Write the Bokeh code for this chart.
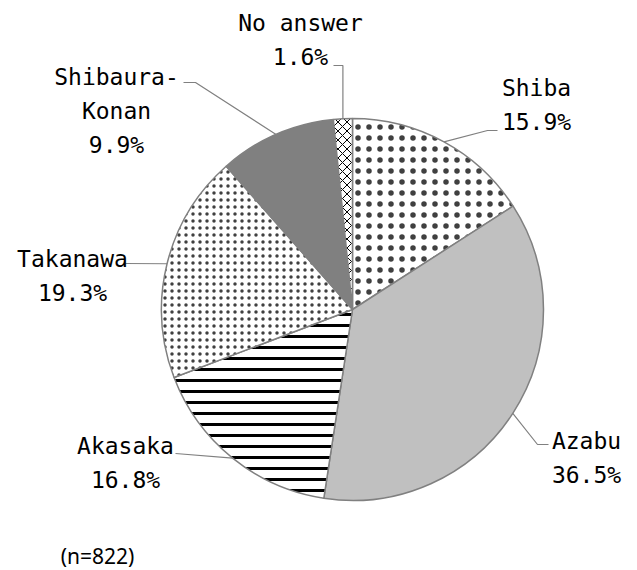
import math
from bokeh.plotting import figure
from bokeh.models import ColumnDataSource, Range1d
from bokeh.embed import file_html
from bokeh.resources import INLINE

# ---- data ----
categories = ["Shiba", "Azabu", "Akasaka", "Takanawa", "Shibaura-\nKonan", "No answer"]
shares = [15.9, 36.5, 16.8, 19.3, 9.9, 1.6]
share_labels = ["15.9%", "36.5%", "16.8%", "19.3%", "9.9%", "1.6%"]
note = "(n=822)"

# ---- styles ----
fills = ["white", "#c0c0c0", "white", "white", "#808080", "white"]
hatches = ["dot", " ", "horizontal_line", "dot", " ", "diagonal_cross"]
hatch_scales = [11, 10, 11, 7, 10, 9]
hatch_weights = [1.2, 1, 3, 1.3, 1, 1]
hatch_colors = ["#404040", "#000000", "#000000", "#404040", "#000000", "#000000"]

W, H = 637, 570
def px(X):
    return X
def py(Y):
    return H - Y

CX, CY, R = px(352), py(309), 191

total = sum(shares)
starts, ends, mids = [], [], []
acc = 0.0
for s in shares:
    a0 = acc / total * 360.0
    acc += s
    a1 = acc / total * 360.0
    starts.append(math.radians(90 - a1))
    ends.append(math.radians(90 - a0))
    mids.append((a0 + a1) / 2)

p = figure(width=W, height=H, output_backend="svg", toolbar_location=None,
           x_range=Range1d(0, W), y_range=Range1d(0, H), min_border=0)
p.axis.visible = False
p.grid.visible = False
p.outline_line_color = None

src = ColumnDataSource(dict(start=starts, end=ends, fill=fills, hatch=hatches,
                            hs=hatch_scales, hw=hatch_weights, hc=hatch_colors))
p.wedge(x=CX, y=CY, radius=R, start_angle="start", end_angle="end",
        fill_color="fill", hatch_pattern="hatch", hatch_scale="hs",
        hatch_weight="hw", hatch_color="hc", hatch_alpha=1.0,
        line_color="#808080", line_width=1.5, source=src)

def edge(i):
    a = math.radians(mids[i])
    return CX + R * math.sin(a), CY + R * math.cos(a)

# leader bend points (page coords) after the slice edge point
leader_paths = [
    [(487, 130), (497, 130)],
    [(537, 444), (548, 444)],
    [(175, 453)],
    [(125, 263)],
    [(195, 82), (183, 82)],
    [(None, 65), (333, 65)],
]
for i, pts in enumerate(leader_paths):
    ex, ey = edge(i)
    xs, ys = [ex], [ey]
    for (X, Y) in pts:
        xs.append(ex if X is None else px(X))
        ys.append(py(Y))
    p.line(xs, ys, line_color="#808080", line_width=1.2)

# label positions (page coords: center x, first line center y)
label_pos = [(536, 87), (586, 440), (125, 445), (72, 258), (116, 76), (300, 22)]
line_h = 34
FONT = "DejaVu Sans Mono"
tx, ty, tt = [], [], []
for i, name in enumerate(categories):
    lines = name.split("\n") + [share_labels[i]]
    X, Y = label_pos[i]
    for k, ln in enumerate(lines):
        tx.append(px(X)); ty.append(py(Y + k * line_h)); tt.append(ln)
p.text(x=tx, y=ty, text=tt, text_align="center", text_baseline="middle",
       text_font={"value": FONT}, text_font_size="23px", text_color="#000000")

p.text(x=[px(97)], y=[py(555)], text=[note], text_align="center",
       text_baseline="middle", text_font={"value": "Noto Sans"},
       text_font_size="21px", text_color="#000000")

open("out.html", "w").write(file_html(p, INLINE))
